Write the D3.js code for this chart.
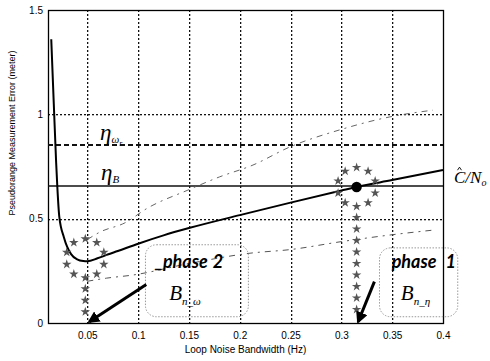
<!DOCTYPE html>
<html>
<head>
<meta charset="utf-8">
<script src="https://cdn.jsdelivr.net/npm/d3@7"></script>
<style>
  body { margin: 0; background: #fff; }
  svg { display: block; }
  text { fill: #000; }
</style>
</head>
<body>
<svg id="chart" width="490" height="361"></svg>
<script>
// Loop noise bandwidth (Hz) vs. pseudorange error (m)
const solidBw  = [0.0145, 0.017, 0.0193, 0.0205, 0.0224, 0.027, 0.034, 0.04, 0.046, 0.05, 0.06, 0.07, 0.08, 0.1, 0.125, 0.15, 0.2, 0.25, 0.3, 0.315, 0.35, 0.4];
const solidErr = [1.36, 1.05, 0.77, 0.65, 0.51, 0.41, 0.33, 0.305, 0.297, 0.296, 0.31, 0.328, 0.345, 0.38, 0.42, 0.455, 0.517, 0.577, 0.635, 0.652, 0.685, 0.733];

const upperBw  = [0.05, 0.0625, 0.087, 0.109, 0.149, 0.18, 0.213, 0.249, 0.298, 0.347, 0.39];
const upperErr = [0.40, 0.436, 0.48, 0.55, 0.637, 0.70, 0.757, 0.843, 0.925, 0.987, 1.02];

const lowerBw  = [0.05, 0.069, 0.095, 0.15, 0.211, 0.25, 0.3, 0.345, 0.39];
const lowerErr = [0.20, 0.215, 0.23, 0.285, 0.335, 0.352, 0.39, 0.42, 0.445];

// Threshold levels
const etaOmega = 0.853;
const etaB = 0.656;

// Selected bandwidths for the two phases
const phaseBw  = [0.048, 0.315];
const phaseErr = [0.31, 0.652];
const phaseWords = ["phase", "phase"];
const phaseNums  = ["2", "1"];

// Axis ticks
const xTicks = [0.05, 0.1, 0.15, 0.2, 0.25, 0.3, 0.35, 0.4];
const xTickLabels = ["0.05", "0.1", "0.15", "0.2", "0.25", "0.3", "0.35", "0.4"];
const yTicks = [0, 0.5, 1, 1.5];
const yTickLabels = ["0", "0.5", "1", "1.5"];

const W = 490, H = 361;
const margin = { top: 10, right: 47, bottom: 38, left: 48 };
const svg = d3.select("#chart");

const x = d3.scaleLinear().domain([0.0113, 0.4]).range([margin.left, W - margin.right]);
const y = d3.scaleLinear().domain([0, 1.5]).range([H - margin.bottom, margin.top]);
const snap = v => Math.round(v) + 0.5;

const zip = (a, b) => a.map((v, i) => [v, b[i]]);
const line = d3.line().x(d => x(d[0])).y(d => y(d[1])).curve(d3.curveMonotoneX);

const plotW = x.range()[1] - x.range()[0];
const plotH = y.range()[0] - y.range()[1];

// Dotted grid at the tick positions: each line is a column or row of small dots
const gridX = xTicks.slice(0, -1);
const gridY = [0.5, 1];
const grid = svg.append("g").attr("fill", "#111");
gridX.forEach(v => {
  const xp = Math.round(x(v));
  grid.selectAll(null).data(d3.range(Math.round(y(1.5)), Math.round(y(0)), 4)).join("rect")
    .attr("x", xp).attr("y", d => d).attr("width", 1.3).attr("height", 2);
});
gridY.forEach(v => {
  const yp = Math.round(y(v));
  grid.selectAll(null).data(d3.range(Math.round(x.range()[0]), Math.round(x.range()[1]), 4)).join("rect")
    .attr("x", d => d).attr("y", yp).attr("width", 2).attr("height", 1.3);
});

// Axes
const xAxis = d3.axisBottom(x).tickValues(xTicks)
  .tickFormat((d, i) => xTickLabels[i]).tickSize(0).tickPadding(9);
const yAxis = d3.axisLeft(y).tickValues(yTicks)
  .tickFormat((d, i) => yTickLabels[i]).tickSize(0).tickPadding(5);

const gx = svg.append("g").attr("transform", `translate(0,${y(0)})`).call(xAxis);
const gy = svg.append("g").attr("transform", `translate(${x.range()[0]},0)`).call(yAxis);
[gx, gy].forEach(g => {
  g.select(".domain").remove();
  g.selectAll("text").attr("font-family", "Liberation Sans, Arial, sans-serif")
    .attr("font-size", 10).attr("fill", "#111");
});

// Frame
svg.append("rect")
  .attr("x", snap(x.range()[0])).attr("y", snap(y(1.5)))
  .attr("width", Math.round(plotW)).attr("height", Math.round(plotH))
  .attr("fill", "none").attr("stroke", "#000").attr("stroke-width", 1.3);

// Threshold lines
svg.append("line")
  .attr("x1", x.range()[0]).attr("x2", x.range()[1])
  .attr("y1", y(etaOmega)).attr("y2", y(etaOmega))
  .attr("stroke", "#111").attr("stroke-width", 1.8).attr("stroke-dasharray", "5,3");
svg.append("line")
  .attr("x1", x.range()[0]).attr("x2", x.range()[1])
  .attr("y1", y(etaB)).attr("y2", y(etaB))
  .attr("stroke", "#111").attr("stroke-width", 1.5);

// Upper and lower bound curves
svg.append("path").datum(zip(upperBw, upperErr)).attr("d", line)
  .attr("fill", "none").attr("stroke", "#666").attr("stroke-width", 1)
  .attr("stroke-dasharray", "6,5,2,5");
svg.append("path").datum(zip(lowerBw, lowerErr)).attr("d", line)
  .attr("fill", "none").attr("stroke", "#555").attr("stroke-width", 1)
  .attr("stroke-dasharray", "6,5,2,5");

// Main error curve
svg.append("path").datum(zip(solidBw, solidErr)).attr("d", line)
  .attr("fill", "none").attr("stroke", "#000").attr("stroke-width", 2);

// Star rings around the selected points, and star columns down to the axis
const star = d3.symbol().type(d3.symbolStar).size(28);
const stars = svg.append("g").attr("fill", "#555");
phaseBw.forEach((bw, k) => {
  const cx = x(bw), cy = y(phaseErr[k]), r = 19.5;
  const pts = d3.range(10).map(i => {
    const a = -Math.PI / 2 + i * Math.PI / 5;
    return [cx + r * Math.cos(a), cy + r * Math.sin(a)];
  });
  const bottom = cy + r;
  d3.range(bottom + 11, y(0) - 3, 11.5).forEach(v => pts.push([cx, v]));
  stars.selectAll(null).data(pts).join("path")
    .attr("d", star).attr("transform", d => `translate(${d[0]},${d[1]})`);
});

// Dot at the phase 1 operating point
svg.append("circle").attr("cx", x(phaseBw[1])).attr("cy", y(phaseErr[1]))
  .attr("r", 5.2).attr("fill", "#000");

// Rounded annotation boxes
const boxes = [
  { x0: 0.1072, x1: 0.2085, y0: 0.375, y1: 0.03 },
  { x0: 0.3375, x1: 0.4145, y0: 0.36, y1: 0.03 }
];
svg.selectAll("rect.box").data(boxes).join("rect").attr("class", "box")
  .attr("x", d => x(d.x0)).attr("y", d => y(d.y0))
  .attr("width", d => x(d.x1) - x(d.x0)).attr("height", d => y(d.y1) - y(d.y0))
  .attr("rx", 11).attr("fill", "none").attr("stroke", "#999")
  .attr("stroke-width", 1).attr("stroke-dasharray", "1.5,1.5");

// Arrows pointing at the selected bandwidths
const defs = svg.append("defs");
defs.append("marker").attr("id", "head").attr("viewBox", "0 0 10 10")
  .attr("refX", 8).attr("refY", 5).attr("markerWidth", 4).attr("markerHeight", 4)
  .attr("orient", "auto")
  .append("path").attr("d", "M0,0 L10,5 L0,10 z").attr("fill", "#000");
const arrows = [
  { from: [0.108, 0.185], to: [0.052, 0.006] },
  { from: [0.3325, 0.198], to: [0.3165, 0.006] }
];
svg.selectAll("line.arrow").data(arrows).join("line").attr("class", "arrow")
  .attr("x1", d => x(d.from[0])).attr("y1", d => y(d.from[1]))
  .attr("x2", d => x(d.to[0])).attr("y2", d => y(d.to[1]))
  .attr("stroke", "#000").attr("stroke-width", 3).attr("marker-end", "url(#head)");

// Phase labels
const phaseFont = "Lato, 'Open Sans', sans-serif";
function phaseLabel(pxX, pxY, word, num, gap) {
  const t = svg.append("text").attr("x", pxX).attr("y", pxY)
    .attr("font-family", phaseFont).attr("font-style", "italic").attr("font-weight", 700)
    .attr("font-size", 18);
  t.append("tspan").text(word);
  t.append("tspan").attr("dx", gap).text(num);
}
phaseLabel(x(0.1165), y(0.265), "_" + phaseWords[0], phaseNums[0], 5);
phaseLabel(x(0.3495), y(0.265), phaseWords[1], phaseNums[1], 9);

const serif = "'Liberation Serif', 'Times New Roman', serif";
function bLabel(pxX, pxY, sub) {
  const t = svg.append("text").attr("x", pxX).attr("y", pxY)
    .attr("font-family", serif).attr("font-style", "italic").attr("font-size", 21);
  t.append("tspan").text("B");
  t.append("tspan").attr("font-size", 11).attr("dy", 5).text(sub);
}
bLabel(x(0.1305), y(0.11), "n_ω");
bLabel(x(0.3585), y(0.11), "n_η");

// Threshold labels
function etaLabel(pxX, pxY, sub, subsub) {
  const t = svg.append("text").attr("x", pxX).attr("y", pxY)
    .attr("font-family", serif).attr("font-style", "italic").attr("font-size", 23);
  t.append("tspan").text("η");
  t.append("tspan").attr("font-size", 11).attr("dy", 3).text(sub);
  if (subsub) t.append("tspan").attr("font-size", 8).attr("dy", 3).text(subsub);
}
etaLabel(x(0.0625), y(etaOmega) - 5, "ω", "r");
etaLabel(x(0.0635), y(etaB) - 6, "B");

// Carrier-to-noise label at the curve end, with a hat drawn as a path
const cnX = x.range()[1] + 11, cnY = y(0.67);
const cn = svg.append("text").attr("x", cnX).attr("y", cnY)
  .attr("font-family", serif).attr("font-style", "italic").attr("font-size", 17);
cn.append("tspan").text("C/N");
cn.append("tspan").attr("font-size", 10).attr("dy", 3).text("o");
svg.append("path")
  .attr("d", `M${cnX + 3.5},${cnY - 13} L${cnX + 5.5},${cnY - 16} L${cnX + 7.5},${cnY - 13}`)
  .attr("fill", "none").attr("stroke", "#000").attr("stroke-width", 0.9);

// Axis titles
svg.append("text").attr("x", (x.range()[0] + x.range()[1]) / 2).attr("y", 353)
  .attr("text-anchor", "middle").attr("font-family", "Liberation Sans, Arial, sans-serif")
  .attr("font-size", 10).attr("fill", "#111").text("Loop Noise Bandwidth (Hz)");
svg.append("text").attr("transform", "translate(15,133) rotate(-90)")
  .attr("text-anchor", "middle").attr("font-family", "Liberation Sans, Arial, sans-serif")
  .attr("font-size", 9).attr("fill", "#111").text("Pseudorange Measurement Error (meter)");
</script>
</body>
</html>
